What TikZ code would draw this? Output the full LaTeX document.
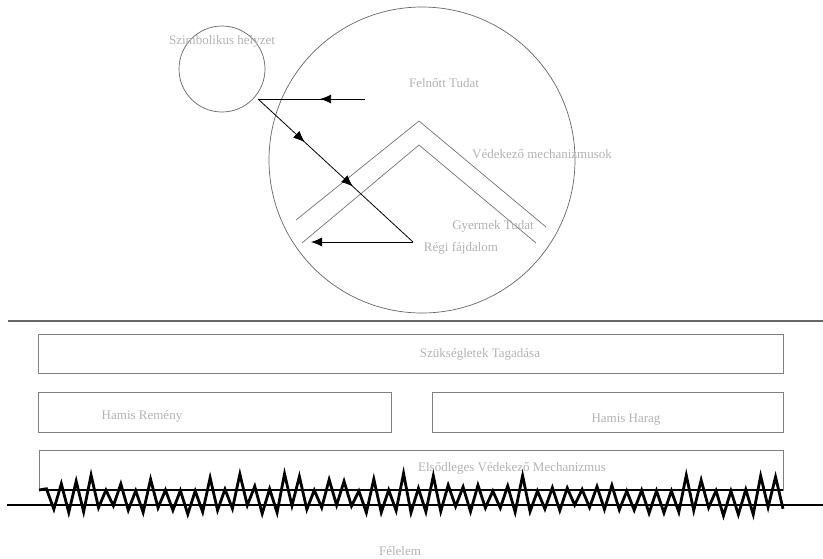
\documentclass[tikz,border=0pt]{standalone}
\usepackage{fontspec}
\setmainfont{Liberation Serif}
\usetikzlibrary{arrows.meta,decorations.markings}
\begin{document}
\begin{tikzpicture}[x=1pt,y=-1pt,
  lbl/.style={text=black!30,font=\fontsize{13}{15}\selectfont,inner sep=0pt},
  ring/.style={draw=black!60,line width=0.7pt,circle,inner sep=0pt},
  wall/.style={draw=black!55,line width=0.7pt},
  slab/.style={draw=black!50,line width=0.8pt,rectangle,inner sep=0pt,outer sep=0pt},
  flow/.style={draw=black,line width=0.8pt},
  tip/.style={-{Latex[length=11pt,width=9pt]}},
  midtip/.style={postaction={decorate},decoration={markings,
      mark=at position #1 with {\arrow{Latex[length=11pt,width=9pt]}}}},
  zig/.style={draw=black,line width=2.8pt,line join=miter}]
\useasboundingbox (0,0) rectangle (823,558);

% circles of the upper scene
\node[ring,minimum size=86pt] (sym) at (222,69) {};
\node[ring,minimum size=306pt] (mind) at (422,160) {};

% the two chevrons
\coordinate (ca) at (296,220); \coordinate (cb) at (419,121); \coordinate (cc) at (546,227);
\coordinate (da) at (302,243); \coordinate (db) at (419,145); \coordinate (dc) at (536,243);
\draw[wall] (ca) -- (cb) -- (cc);
\draw[wall] (da) -- (db) -- (dc);

% arrows between the points of the scene
\coordinate (p0) at (365,99);
\coordinate (p1) at (258,99);
\coordinate (p2) at (413,242);
\coordinate (p3) at (311,242);
\draw[flow,midtip=0.42] (p0) -- (p1);
\draw[flow,midtip=0.30,midtip=0.61] (p1) -- (p2);
\draw[flow,tip] (p2) -- (p3);

% labels of the upper scene
\node[lbl] (tsym) at (222,41) {Szimbolikus helyzet};
\node[lbl] (tfel) at (444,83) {Felnőtt Tudat};
\node[lbl] (tved) at (542,154) {Védekező mechanizmusok};
\node[lbl] (tgye) at (493,226) {Gyermek Tudat};
\node[lbl] (treg) at (461,248) {Régi fájdalom};

% separator line
\coordinate (s0) at (8,321); \coordinate (s1) at (823,321);
\draw[draw=black!60,line width=2pt] (s0) -- (s1);

% layered boxes
\node[slab,minimum width=745pt,minimum height=39pt] (b1) at (410.5,353.5) {};
\node[slab,minimum width=353pt,minimum height=40pt] (b2) at (214.5,412) {};
\node[slab,minimum width=351pt,minimum height=40pt] (b3) at (607.5,412) {};
\node[slab,minimum width=744pt,minimum height=40pt] (b4) at (411,470) {};

\node[lbl] (t1) at (480,354) {Szükségletek Tagadása};
\node[lbl] (t2) at (142,416) {Hamis Remény};
\node[lbl] (t3) at (626,420) {Hamis Harag};
\node[lbl] (t4) at (512,468) {Elsődleges Védekező Mechanizmus};

% ground line and the jagged edge on it
\draw[draw=black,line width=1.2pt] (b4.south west) -- (b4.south east);
\coordinate (g0) at (7,505); \coordinate (g1) at (823,505);
\draw[draw=black,line width=2pt] (g0) -- (g1);
\pgfmathsetseed{11}
\draw[zig] (39,490) \foreach \k in {1,...,100}{
  -- ({39+7.44*\k},{isodd(\k) ? 491-18*rnd^2 : 505+11*rnd})};

\node[lbl] (t5) at (400,551) {Félelem};
\end{tikzpicture}
\end{document}
